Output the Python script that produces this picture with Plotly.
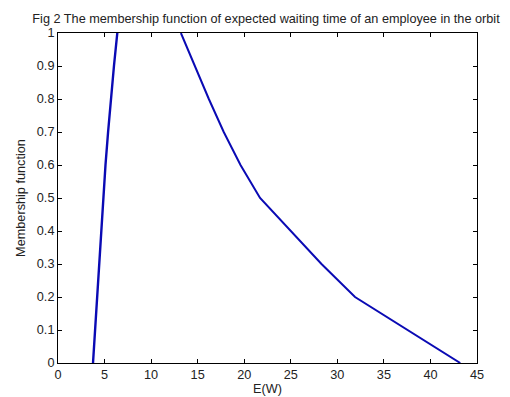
import plotly.graph_objects as go

# Rising branch
left_x = [3.76, 3.97, 4.18, 4.40, 4.62, 4.85, 5.10, 5.38, 5.68, 6.01, 6.37]
left_y = [0.0, 0.1, 0.2, 0.3, 0.4, 0.5, 0.6, 0.7, 0.8, 0.9, 1.0]

# Falling branch
right_x = [13.2, 14.7, 16.2, 17.8, 19.6, 21.7, 25.0, 28.3, 31.9, 37.5, 43.2]
right_y = [1.0, 0.9, 0.8, 0.7, 0.6, 0.5, 0.4, 0.3, 0.2, 0.1, 0.0]

x_ticks = [0, 5, 10, 15, 20, 25, 30, 35, 40, 45]
y_ticks = [0, 0.1, 0.2, 0.3, 0.4, 0.5, 0.6, 0.7, 0.8, 0.9, 1]
y_tick_text = ["0", "0.1", "0.2", "0.3", "0.4", "0.5", "0.6", "0.7", "0.8", "0.9", "1"]

line_color = "#0a0ab4"
fnt = "Liberation Sans, Arial, sans-serif"
fs = 12.7

# page body has an 8px margin: figure is sized to fit the 510x397 window
W, H = 502, 389

fig = go.Figure()
fig.add_trace(go.Scatter(x=left_x, y=left_y, mode="lines",
                         line=dict(color=line_color, width=2.4), showlegend=False))
fig.add_trace(go.Scatter(x=right_x, y=right_y, mode="lines",
                         line=dict(color=line_color, width=2), showlegend=False))

axis_common = dict(showline=True, linecolor="black", linewidth=1, mirror="ticks",
                   ticks="inside", ticklen=4, tickcolor="black", showgrid=False,
                   zeroline=False, automargin=False,
                   tickfont=dict(family=fnt, size=fs, color="#222"))

fig.update_layout(
    width=W, height=H,
    margin=dict(l=50, r=33, t=25, b=34, autoexpand=False),
    paper_bgcolor="white", plot_bgcolor="white",
    font=dict(family=fnt, size=fs, color="#222"),
    title=dict(text="Fig 2 The membership function of expected waiting time of an employee in the orbit",
               x=258 / W, xanchor="center", xref="container",
               y=1 - 11 / H, yanchor="middle", yref="container",
               automargin=False,
               font=dict(family=fnt, size=fs, color="#222")),
    xaxis=dict(range=[0, 45], tickvals=x_ticks,
               title=dict(text="E(W)", standoff=2, font=dict(family=fnt, size=fs)),
               **axis_common),
    yaxis=dict(range=[0, 1], tickvals=y_ticks, ticktext=y_tick_text,
               title=dict(text="Membership function", standoff=8, font=dict(family=fnt, size=fs)),
               **axis_common),
)

fig.write_html("out.html")
